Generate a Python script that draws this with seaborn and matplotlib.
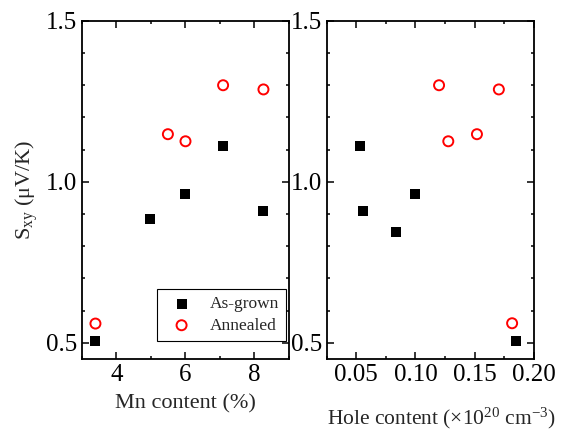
import matplotlib
matplotlib.use("Agg")
import matplotlib.pyplot as plt
import seaborn as sns
from matplotlib.ticker import MultipleLocator, FormatStrFormatter

# Data
mn_grown = [3.39, 4.98, 6.0, 7.09, 8.26]
s_grown_mn = [0.505, 0.884, 0.962, 1.112, 0.910]
mn_ann = [3.39, 5.49, 6.0, 7.09, 8.26]
s_ann_mn = [0.560, 1.148, 1.126, 1.300, 1.287]

hole_grown = [0.0534, 0.0556, 0.0837, 0.0997, 0.1847]
s_grown_h = [1.112, 0.910, 0.844, 0.962, 0.507]
hole_ann = [0.1199, 0.1277, 0.1519, 0.1704, 0.1816]
s_ann_h = [1.300, 1.126, 1.148, 1.287, 0.561]

sns.set_style("ticks")
plt.rcParams['font.family'] = ['Liberation Serif', 'DejaVu Serif']
plt.rcParams['mathtext.fontset'] = 'custom'
plt.rcParams['mathtext.rm'] = 'Liberation Serif'
plt.rcParams['mathtext.it'] = 'Liberation Serif:italic'

fig = plt.figure(figsize=(5.62, 4.33), dpi=100)
ax1 = fig.add_axes([0.1459, 0.1709, 0.3683, 0.781])
ax2 = fig.add_axes([0.5813, 0.1709, 0.3689, 0.781])

def style(ax):
    for sp in ax.spines.values():
        sp.set_linewidth(1.3)
        sp.set_color('black')
        sp.set_visible(True)
    ax.tick_params(which='both', direction='in', top=True, right=True,
                   width=1.1, colors='black', labelsize=18)
    ax.tick_params(which='major', length=5)
    ax.tick_params(which='minor', length=2.5)
    ax.set_ylim(0.45, 1.5)
    ax.yaxis.set_major_locator(MultipleLocator(0.5))
    ax.yaxis.set_minor_locator(MultipleLocator(0.1))
    ax.yaxis.set_major_formatter(FormatStrFormatter('%.1f'))

sns.scatterplot(x=mn_grown, y=s_grown_mn, ax=ax1, marker='s', s=55,
                color='black', linewidth=0, label='As-grown')
sns.scatterplot(x=mn_ann, y=s_ann_mn, ax=ax1, marker='o', s=52,
                facecolor='none', edgecolor='red', linewidth=1.4, label='Annealed')
sns.scatterplot(x=hole_grown, y=s_grown_h, ax=ax2, marker='s', s=55,
                color='black', linewidth=0, legend=False)
sns.scatterplot(x=hole_ann, y=s_ann_h, ax=ax2, marker='o', s=52,
                facecolor='none', edgecolor='red', linewidth=1.4, legend=False)

style(ax1)
style(ax2)
ax1.set_xlim(3, 9)
ax1.xaxis.set_major_locator(MultipleLocator(2))
ax1.xaxis.set_minor_locator(MultipleLocator(1))
ax2.set_xlim(0.025, 0.2001)
ax2.xaxis.set_major_locator(MultipleLocator(0.05))
ax2.xaxis.set_minor_locator(MultipleLocator(0.025))
ax2.xaxis.set_major_formatter(FormatStrFormatter('%.2f'))

ax1.set_xlabel('Mn content (%)', fontsize=16, labelpad=6)
ax1.set_ylabel(r'S$_{\rm xy}$ (μV/K)', fontsize=16, labelpad=4)
ax2.set_xlabel(r'Hole content (×10$^{20}$ cm$^{-3}$)', fontsize=15.5)
ax2.xaxis.set_label_coords(0.553, -0.138)
ax2.set_ylabel('')

leg = ax1.legend(loc='lower right', bbox_to_anchor=(0.984, 0.054), borderaxespad=0,
                 fontsize=12.5, frameon=True, fancybox=False, framealpha=1,
                 edgecolor='black', handletextpad=0.6, borderpad=0.4,
                 labelspacing=0.3)
leg.get_frame().set_linewidth(0.8)

fig.savefig('out.png', dpi=100)
